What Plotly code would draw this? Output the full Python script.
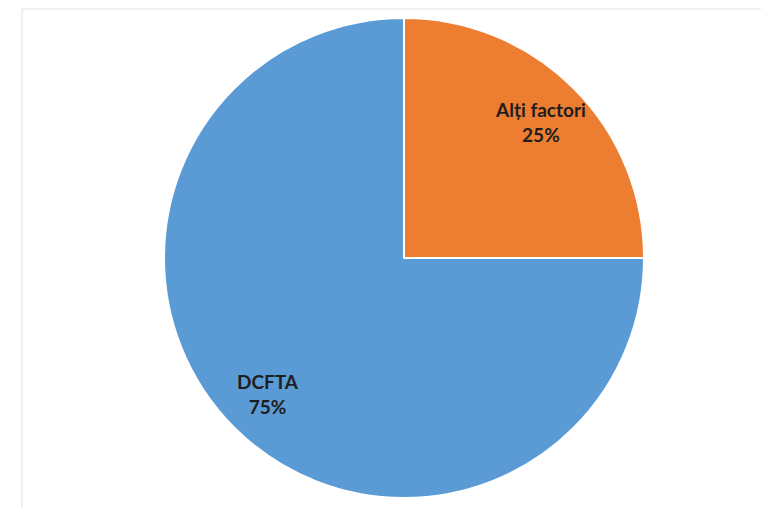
import math
import plotly.graph_objects as go

labels = ["Alți factori", "DCFTA"]
values = [25, 75]
colors = ["#ED7D31", "#5B9BD5"]

W, H = 769, 508
L, R, T, B = 156, 133, 10, 18
pw = W - L - R
ph = H - T - B
RADIUS_PX = 238
LABEL_FRAC = 0.81

fig = go.Figure(go.Pie(
    labels=labels,
    values=values,
    sort=False,
    direction="clockwise",
    rotation=0,
    marker=dict(colors=colors, line=dict(color="white", width=2)),
    textinfo="none",
    showlegend=False,
    hoverinfo="label+percent",
))

total = sum(values)
annotations = []
cum = 0
for lab, v in zip(labels, values):
    mid = (cum + v / 2) / total * 2 * math.pi
    cum += v
    d = RADIUS_PX * LABEL_FRAC
    annotations.append(dict(
        xref="paper", yref="paper",
        x=0.5 + d * math.sin(mid) / pw,
        y=0.5 + d * math.cos(mid) / ph,
        text="<b>%s<br>%d%%</b>" % (lab, round(v / total * 100)),
        showarrow=False,
        font=dict(family="Lato, Liberation Sans, sans-serif", size=19, color="#1E1E1E"),
        xanchor="center", yanchor="middle", align="center",
    ))

fig.update_layout(
    width=W, height=H,
    margin=dict(l=L, r=R, t=T, b=B),
    paper_bgcolor="white",
    plot_bgcolor="white",
    annotations=annotations,
    shapes=[dict(
        type="rect", xref="paper", yref="paper",
        x0=(14 - L) / pw, x1=(900 - L) / pw,
        y0=(H - B - 515) / ph, y1=(H - B - 1) / ph,
        line=dict(color="#ECECEC", width=1.5),
        fillcolor="rgba(0,0,0,0)", layer="below",
    )],
)

fig.write_html("out.html")
